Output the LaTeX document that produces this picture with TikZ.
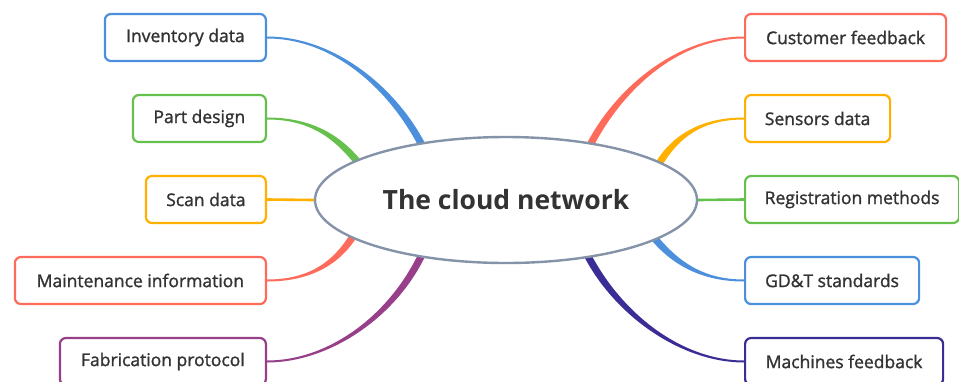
\documentclass[tikz,border=0pt]{standalone}
\usepackage{fontspec}
\setmainfont{Open Sans}
\newfontfamily\leaffont[FakeBold=1.4]{Open Sans}
\usetikzlibrary{calc,shapes.geometric}
\definecolor{cblue}{HTML}{4C8FDC}
\definecolor{cgreen}{HTML}{66C04C}
\definecolor{corange}{HTML}{FFB000}
\definecolor{cred}{HTML}{FF6B5B}
\definecolor{cpurple}{HTML}{973F88}
\definecolor{cindigo}{HTML}{3A2E96}
\definecolor{cgray}{HTML}{8493A8}
\definecolor{ctext}{HTML}{333333}
\pgfdeclarelayer{bg}
\pgfsetlayers{bg,main}
\newcommand{\mmconn}[5]{%
  \path ($(#2)!1pt!90:(#3)$) coordinate (ta0) ($(#3)!1pt!-90:(#2)$) coordinate (ta1)
        ($(#4)!3.6pt!90:(#5)$) coordinate (ta2) ($(#5)!3.6pt!-90:(#4)$) coordinate (ta3)
        ($(#2)!1pt!-90:(#3)$) coordinate (tb0) ($(#3)!1pt!90:(#2)$) coordinate (tb1)
        ($(#4)!3.6pt!-90:(#5)$) coordinate (tb2) ($(#5)!3.6pt!90:(#4)$) coordinate (tb3);
  \fill[#1] (ta0) .. controls (ta1) and (ta2) .. (ta3) -- (tb3) .. controls (tb2) and (tb1) .. (tb0) -- cycle;
}
\tikzset{
  leaf/.style={draw=#1, line width=2.2pt, rounded corners=6pt, fill=white,
    minimum height=47pt, inner sep=0pt, text=ctext, font=\leaffont\fontsize{17.5}{20}\selectfont},
  hub/.style={ellipse, draw=cgray, line width=2.4pt, fill=white, minimum width=382pt,
    minimum height=126pt, inner sep=0pt, text=ctext, font=\bfseries\fontsize{26.5}{30}\selectfont},
  flat/.style={draw=#1, line width=2.6pt}
}
\begin{document}
\begin{tikzpicture}[x=1pt,y=-1pt]
\useasboundingbox (0,0) rectangle (959,381);
\node[hub] (cloud) at (506,200) {The cloud network};
% left
\node[leaf=cblue, minimum width=161pt, anchor=east] (inv) at (267,37.5) {Inventory data};
\node[leaf=cgreen, minimum width=133pt, anchor=east] (part) at (267,118.5) {Part design};
\node[leaf=corange, minimum width=120pt, anchor=east] (scan) at (267,199.5) {Scan data};
\node[leaf=cred, minimum width=251pt, anchor=east] (maint) at (267,280.5) {Maintenance information};
\node[leaf=cpurple, minimum width=206pt, anchor=east] (fab) at (267,361.5) {Fabrication protocol};
% right
\node[leaf=cred, minimum width=201pt, anchor=west] (cust) at (744,37.5) {Customer feedback};
\node[leaf=corange, minimum width=145pt, anchor=west] (sens) at (744,118.5) {Sensors data};
\node[leaf=cgreen, minimum width=214pt, anchor=west] (reg) at (744,199.5) {Registration methods};
\node[leaf=cblue, minimum width=174pt, anchor=west] (gdt) at (744,280.5) {GD\&T standards};
\node[leaf=cindigo, minimum width=198pt, anchor=west] (mach) at (744,361.5) {Machines feedback};
\begin{pgfonlayer}{bg}
  % inventory
  \coordinate (e1) at ($(cloud.146)!-8pt!(395,90)$);
  \mmconn{cblue}{inv.east}{335,37.5}{395,90}{e1}
  % part design
  \coordinate (e2) at ($(cloud.165)!-8pt!(338,136)$);
  \mmconn{cgreen}{part.east}{310,118.5}{338,136}{e2}
  % scan data
  \draw[flat=corange] (scan.east) -- (cloud.west);
  % maintenance
  \coordinate (e4) at ($(cloud.194.6)!-8pt!(338,263)$);
  \mmconn{cred}{maint.east}{310,280.5}{338,263}{e4}
  % fabrication
  \coordinate (e5) at ($(cloud.214.6)!-8pt!(395,315)$);
  \mmconn{cpurple}{fab.east}{330,361.5}{395,315}{e5}
  % customer
  \coordinate (e6) at ($(cloud.34.2)!-8pt!(617,90)$);
  \mmconn{cred}{cust.west}{677,37.5}{617,90}{e6}
  % sensors
  \coordinate (e7) at ($(cloud.14.9)!-8pt!(674,136)$);
  \mmconn{corange}{sens.west}{702,118.5}{674,136}{e7}
  % registration
  \draw[flat=cgreen] (reg.west) -- (cloud.east);
  % gdt
  \coordinate (e9) at ($(cloud.345.4)!-8pt!(674,263)$);
  \mmconn{cblue}{gdt.west}{702,280.5}{674,263}{e9}
  % machines
  \coordinate (e10) at ($(cloud.325.4)!-8pt!(617,315)$);
  \mmconn{cindigo}{mach.west}{682,361.5}{617,315}{e10}
\end{pgfonlayer}
\end{tikzpicture}
\end{document}
